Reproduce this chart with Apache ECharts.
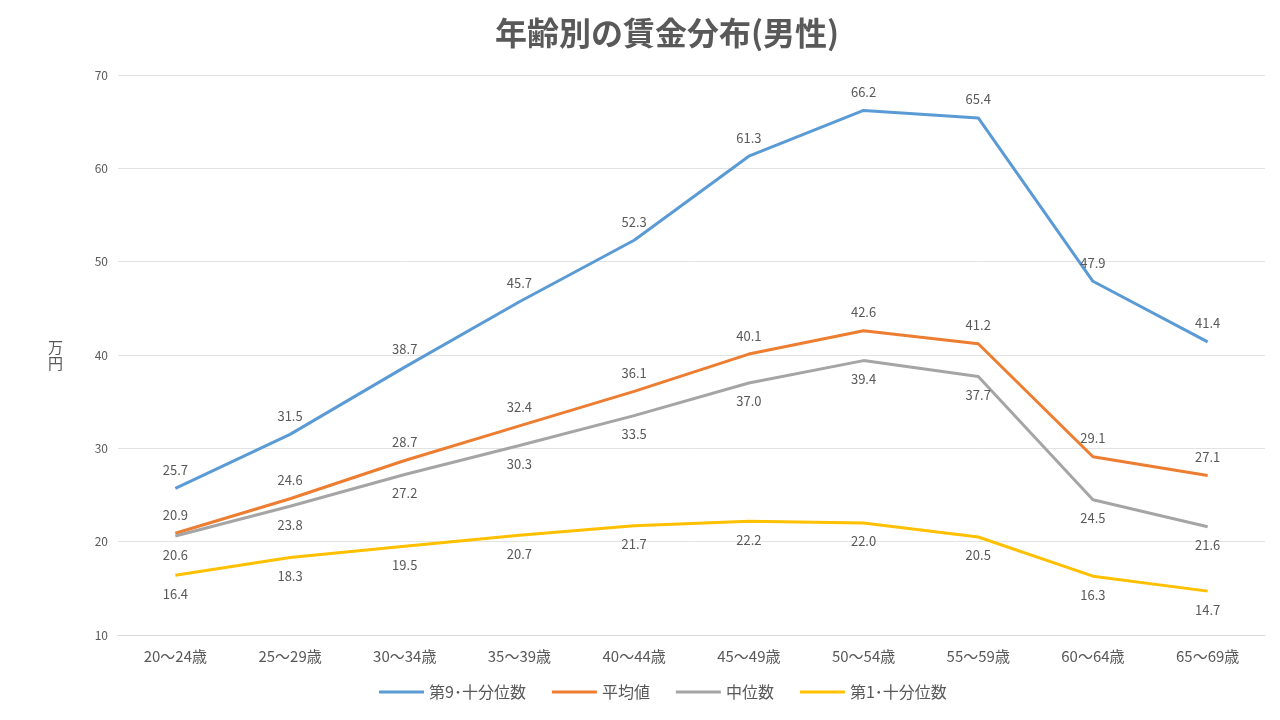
<!DOCTYPE html>
<html>
<head>
<meta charset="utf-8">
<script src="https://cdn.jsdelivr.net/npm/echarts@6/dist/echarts.min.js"></script>
<style>
html, body { margin: 0; padding: 0; background: #fff; }
#main { width: 1280px; height: 720px; }
</style>
</head>
<body>
<div id="main"></div>
<script>
// 年齢区分
const ages = ['20〜24歳', '25〜29歳', '30〜34歳', '35〜39歳', '40〜44歳', '45〜49歳', '50〜54歳', '55〜59歳', '60〜64歳', '65〜69歳']
// 系列の値(万円)
const decile9 = [25.7, 31.5, 38.7, 45.7, 52.3, 61.3, 66.2, 65.4, 47.9, 41.4]
const average = [20.9, 24.6, 28.7, 32.4, 36.1, 40.1, 42.6, 41.2, 29.1, 27.1]
const median = [20.6, 23.8, 27.2, 30.3, 33.5, 37.0, 39.4, 37.7, 24.5, 21.6]
const decile1 = [16.4, 18.3, 19.5, 20.7, 21.7, 22.2, 22.0, 20.5, 16.3, 14.7]

const names = ['第9･十分位数', '平均値', '中位数', '第1･十分位数']
const colors = ['#5B9BD5', '#ED7D31', '#A5A5A5', '#FFC000']

function line(name, data, color, pos) {
  return {
    name: name,
    type: 'line',
    data: data,
    symbol: 'circle',
    symbolSize: 0,
    lineStyle: { width: 3, color: color },
    itemStyle: { color: color },
    labelLayout: { hideOverlap: false },
    label: {
      show: true,
      position: pos,
      distance: 12,
      color: '#595959',
      fontSize: 13,
      formatter: p => p.value.toFixed(1)
    }
  }
}

let chart = echarts.init(document.getElementById('main'))
chart.setOption({
  animation: false,
  textStyle: { fontFamily: 'Noto Sans CJK JP' },
  title: {
    text: '年齢別の賃金分布(男性)',
    left: 490,
    top: 12,
    textStyle: { fontSize: 32, fontWeight: 'bold', color: '#595959' }
  },
  legend: {
    bottom: 15,
    left: 374,
    itemWidth: 45,
    itemHeight: 3,
    itemGap: 26,
    icon: 'rect',
    textStyle: { color: '#595959', fontSize: 16 },
    data: names
  },
  grid: { left: 118, right: 15, top: 75, bottom: 85 },
  xAxis: {
    type: 'category',
    data: ages,
    boundaryGap: true,
    axisTick: { show: false },
    axisLine: { lineStyle: { color: '#D9D9D9' } },
    axisLabel: { color: '#595959', fontSize: 15, margin: 14 }
  },
  yAxis: {
    type: 'value',
    min: 10,
    max: 70,
    interval: 10,
    name: '万\n円',
    nameLocation: 'middle',
    nameRotate: 0,
    nameGap: 55,
    nameTextStyle: { color: '#595959', fontSize: 15, lineHeight: 16 },
    axisLine: { show: false },
    axisTick: { show: false },
    axisLabel: { color: '#595959', fontSize: 12, margin: 10 },
    splitLine: { lineStyle: { color: '#E3E3E3' } }
  },
  series: [
    line(names[0], decile9, colors[0], 'top'),
    line(names[1], average, colors[1], 'top'),
    line(names[2], median, colors[2], 'bottom'),
    line(names[3], decile1, colors[3], 'bottom')
  ]
})
</script>
</body>
</html>
